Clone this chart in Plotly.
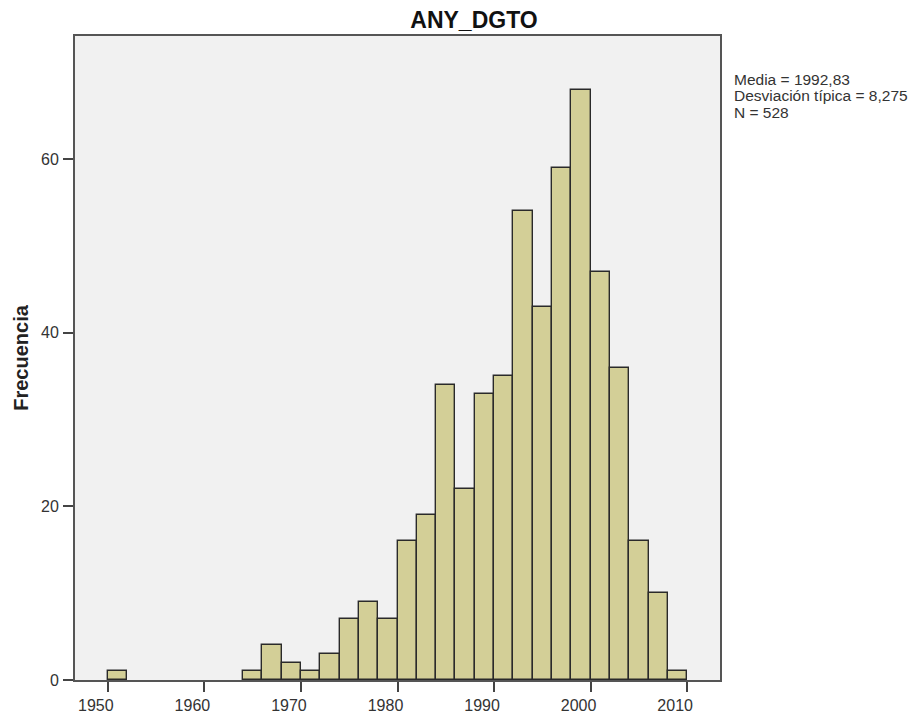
import plotly.graph_objects as go

# Histogram of ANY_DGTO, 2-year bins from 1950 to 2010
bin_start = list(range(1950, 2010, 2))
bin_width = 2
counts = [1, 0, 0, 0, 0, 0, 0, 1, 4, 2,
          1, 3, 7, 9, 7, 16, 19, 34, 22, 33,
          35, 54, 43, 59, 68, 47, 36, 16, 10, 1]

x_ticks = [1950, 1960, 1970, 1980, 1990, 2000, 2010]
y_ticks = [0, 20, 40, 60]
stats_lines = ["Media = 1992,83", "Desviación típica = 8,275", "N = 528"]

centers = [s + bin_width / 2 for s in bin_start]
heights = [c if c > 0 else None for c in counts]

W, H = 924, 713
L, R, T, B = 75, 204, 36, 33
font_family = "Liberation Sans, Arial, sans-serif"

fig = go.Figure()
fig.add_trace(go.Bar(
    x=centers, y=heights, width=bin_width,
    marker=dict(color="#D3CF97", line=dict(color="#2a2a2a", width=1.4)),
    hoverinfo="x+y", showlegend=False,
))

fig.update_layout(
    width=W, height=H,
    margin=dict(l=L, r=R, t=T, b=B),
    paper_bgcolor="white",
    plot_bgcolor="#F1F1F1",
    bargap=0,
    font=dict(family=font_family, size=16, color="#333333"),
    title=dict(text="<b>ANY_DGTO</b>", x=474 / W, xanchor="center",
               y=1 - 20 / H, yanchor="middle",
               font=dict(size=23, color="#111111", family=font_family)),
)

fig.update_xaxes(
    range=[1946.6, 2013.4], tickvals=x_ticks, ticktext=[str(t) for t in x_ticks],
    ticks="outside", ticklen=10, tickwidth=2, tickcolor="#444444",
    showline=True, linecolor="#555555", linewidth=2, mirror=True,
    showgrid=False, zeroline=False, automargin=False,
    ticklabelshift=-12, ticklabelstandoff=0,
    tickfont=dict(size=16, color="#333333"),
)
fig.update_yaxes(
    range=[0, 74.2], tickvals=y_ticks, ticktext=[str(t) for t in y_ticks],
    ticks="outside", ticklen=10, tickwidth=2, tickcolor="#444444",
    showline=True, linecolor="#555555", linewidth=2, mirror=True,
    showgrid=False, zeroline=False, automargin=False,
    ticklabelstandoff=1,
    title=dict(text="<b>Frecuencia</b>", standoff=7,
               font=dict(size=20, color="#222222")),
    tickfont=dict(size=16, color="#333333"),
)

# Summary statistics to the right of the plot area
stats_y = [79, 96, 112]
for line, ypix in zip(stats_lines, stats_y):
    fig.add_annotation(
        text=line, xref="paper", yref="paper",
        x=(732 - L) / (W - L - R), xanchor="left",
        y=1 - (ypix - T) / (H - T - B), yanchor="middle",
        showarrow=False, font=dict(size=15.5, color="#333333", family=font_family),
    )

fig.write_html("out.html")
